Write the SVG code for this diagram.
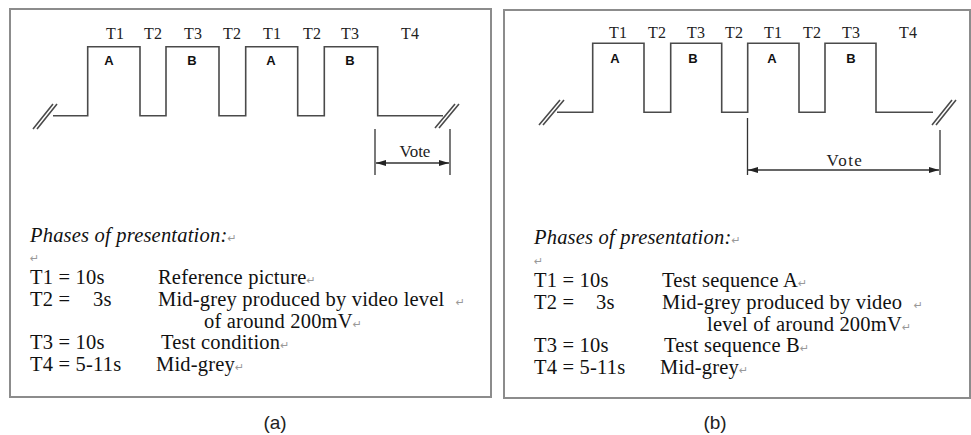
<svg xmlns="http://www.w3.org/2000/svg" width="971" height="435" viewBox="0 0 971 435">
<style>
.frame{fill:#fff;stroke:#8c8c8c;stroke-width:2}
.wave{fill:none;stroke:#4a4a4a;stroke-width:1.6}
.dim{fill:none;stroke:#333;stroke-width:1.3}
.lbl{font-family:"Liberation Serif",serif;font-size:16px;fill:#222;text-anchor:middle}
.ab{font-family:"Liberation Sans",Arial,sans-serif;font-size:13px;font-weight:bold;fill:#111;text-anchor:middle}
.vote{font-family:"Liberation Serif",serif;font-size:17px;fill:#222;text-anchor:middle}
.body{font-family:"Liberation Serif",serif;font-size:20.5px;letter-spacing:0.2px;fill:#111}
.it{font-style:italic}
.ret{font-family:"DejaVu Sans",sans-serif;font-size:11px;fill:#999;font-style:normal;letter-spacing:0}
.cap{font-family:"Liberation Sans",Arial,sans-serif;font-size:19px;fill:#222;text-anchor:middle}
</style>
<defs>
<marker id="ah" viewBox="0 0 10 6" refX="10" refY="3" markerWidth="10" markerHeight="6" markerUnits="userSpaceOnUse" orient="auto-start-reverse">
<path d="M0,0 L10,3 L0,6 Z" fill="#222"/>
</marker>
</defs>

<rect class="frame" x="10" y="9" width="481" height="388"/>
<rect class="frame" x="504" y="10" width="466" height="388"/>

<g id="connectors">
<!-- panel a waveform -->
<path class="wave" d="M53,115.7 H87.7 V46.7 H140 V115.7 H166 V46.7 H219 V115.7 H245.7 V46.7 H297.7 V115.7 H324.3 V46.7 H377.7 V115.7 H443"/>
<path class="wave" d="M33,129 L53,104 M37,129 L57,104 M435,128 L455,104 M439,128 L459,104"/>
<path class="dim" d="M375,129 V175 M450,129 V175"/>
<line class="dim" x1="376" y1="163" x2="449" y2="163" marker-start="url(#ah)" marker-end="url(#ah)"/>
<!-- panel b waveform -->
<path class="wave" d="M557,112.3 H592.7 V43.3 H644 V112.3 H670.7 V43.3 H721.7 V112.3 H747.7 V43.3 H799 V112.3 H825 V43.3 H876 V112.3 H933"/>
<path class="wave" d="M539,125 L560,100 M543,125 L564,100 M932,125 L952,100 M936,125 L956,100"/>
<path class="dim" d="M747.5,118 V175 M940,130 V175"/>
<line class="dim" x1="748" y1="170" x2="939" y2="170" marker-start="url(#ah)" marker-end="url(#ah)"/>
</g>

<g id="panel-a-labels">
<text class="lbl" x="115" y="39">T1</text>
<text class="lbl" x="153" y="39">T2</text>
<text class="lbl" x="193" y="39">T3</text>
<text class="lbl" x="232" y="39">T2</text>
<text class="lbl" x="272" y="39">T1</text>
<text class="lbl" x="312" y="39">T2</text>
<text class="lbl" x="350" y="39">T3</text>
<text class="lbl" x="410" y="39">T4</text>
<text class="ab" x="109" y="65">A</text>
<text class="ab" x="192" y="65">B</text>
<text class="ab" x="271" y="65">A</text>
<text class="ab" x="350" y="65">B</text>
<text class="vote" x="415" y="157">Vote</text>
</g>

<g id="panel-b-labels">
<text class="lbl" x="618" y="38">T1</text>
<text class="lbl" x="657" y="38">T2</text>
<text class="lbl" x="696" y="38">T3</text>
<text class="lbl" x="734" y="38">T2</text>
<text class="lbl" x="773" y="38">T1</text>
<text class="lbl" x="812" y="38">T2</text>
<text class="lbl" x="851" y="38">T3</text>
<text class="lbl" x="908" y="38">T4</text>
<text class="ab" x="615" y="63">A</text>
<text class="ab" x="693" y="63">B</text>
<text class="ab" x="772" y="63">A</text>
<text class="ab" x="851" y="63">B</text>
<text class="vote" x="845" y="166" letter-spacing="1.5">Vote</text>
</g>

<g id="panel-a-text">
<text class="body it" x="30" y="242">Phases of presentation:<tspan class="ret">↵</tspan></text>
<text class="ret" x="30" y="262">↵</text>
<text class="body" x="30" y="284">T1 = 10s</text>
<text class="body" x="158" y="284">Reference picture<tspan class="ret">↵</tspan></text>
<text class="body" x="30" y="306">T2 =<tspan x="93">3s</tspan></text>
<text class="body" x="158" y="306">Mid-grey produced by video level <tspan class="ret" dx="6">↵</tspan></text>
<text class="body" x="204" y="327.5">of around 200mV<tspan class="ret">↵</tspan></text>
<text class="body" x="30" y="349">T3 = 10s</text>
<text class="body" x="161" y="349">Test condition<tspan class="ret">↵</tspan></text>
<text class="body" x="30" y="371">T4 = 5-11s</text>
<text class="body" x="156" y="371">Mid-grey<tspan class="ret">↵</tspan></text>
</g>

<g id="panel-b-text">
<text class="body it" x="534" y="244">Phases of presentation:<tspan class="ret">↵</tspan></text>
<text class="ret" x="534" y="265">↵</text>
<text class="body" x="534" y="287">T1 = 10s</text>
<text class="body" x="662" y="287">Test sequence A<tspan class="ret">↵</tspan></text>
<text class="body" x="534" y="309">T2 =<tspan x="596">3s</tspan></text>
<text class="body" x="662" y="309">Mid-grey produced by video <tspan class="ret" dx="6">↵</tspan></text>
<text class="body" x="707" y="330.5">level of around 200mV<tspan class="ret">↵</tspan></text>
<text class="body" x="534" y="352">T3 = 10s</text>
<text class="body" x="664" y="352">Test sequence B<tspan class="ret">↵</tspan></text>
<text class="body" x="534" y="374">T4 = 5-11s</text>
<text class="body" x="660" y="374">Mid-grey<tspan class="ret">↵</tspan></text>
</g>

<text class="cap" x="275" y="429">(a)</text>
<text class="cap" x="715" y="429">(b)</text>
</svg>
